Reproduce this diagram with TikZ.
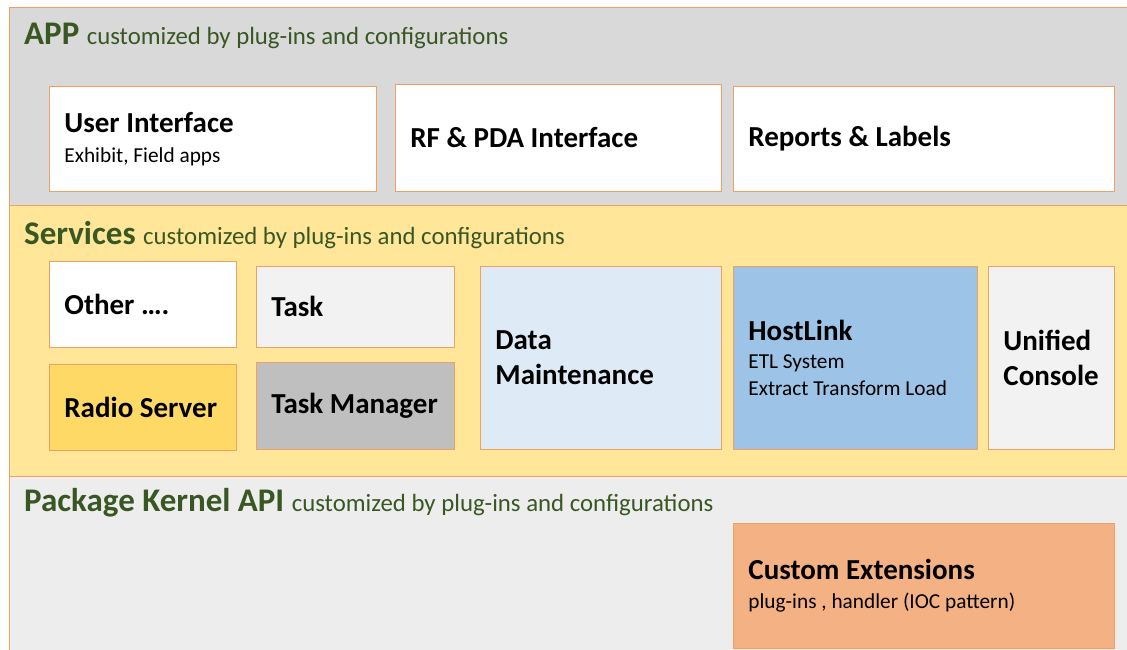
\documentclass[tikz,border=0pt]{standalone}
\usepackage{fontspec}
\setmainfont{Carlito}
\usepackage{xcolor}
\usetikzlibrary{positioning}

\definecolor{edge}{RGB}{240,160,100}
\definecolor{hdgreen}{RGB}{56,87,35}
\definecolor{appgray}{RGB}{217,217,217}
\definecolor{srvyellow}{RGB}{255,230,153}
\definecolor{krngray}{RGB}{237,237,237}
\definecolor{lightgray}{RGB}{242,242,242}
\definecolor{midgray}{RGB}{191,191,191}
\definecolor{gold}{RGB}{255,217,102}
\definecolor{paleblue}{RGB}{222,235,247}
\definecolor{skyblue}{RGB}{157,195,230}
\definecolor{peach}{RGB}{244,177,131}

\newcommand{\panelhd}{\bfseries\fontsize{33}{38}\selectfont}
\newcommand{\panelsub}{\mdseries\fontsize{24.8}{30}\selectfont}
\newcommand{\boxtitle}{\bfseries\fontsize{29}{35}\selectfont}
\newcommand{\boxsub}{\mdseries\fontsize{21.3}{26.5}\selectfont}

\tikzset{
    panel/.style={draw=edge, line width=0.8pt},
    hd/.style={anchor=base west, inner sep=0pt, text=hdgreen},
    blk/.style={draw=edge, line width=0.8pt, anchor=north west, inner xsep=15pt,
        inner ysep=0pt, align=flush left, font=\boxtitle}
}

\begin{document}
\begin{tikzpicture}[x=1pt, y=-1pt]
    \useasboundingbox (0, 0) rectangle (1127, 650);
    \clip (0, 0) rectangle (1127, 650);

    % layers
    \draw[panel, fill=appgray] (9, 7) rectangle (1140, 205);
    \draw[panel, fill=srvyellow] (9, 205) rectangle (1140, 476);
    \draw[panel, fill=krngray] (9, 476) rectangle (1140, 660);

    \node[hd] (apphd) at (24, 45) {\panelhd APP \panelsub customized by plug-ins and configurations};
    \node[hd] (srvhd) at (24, 244) {\panelhd Services \panelsub customized by plug-ins and configurations};
    \node[hd] (krnhd) at (24, 511) {\panelhd Package Kernel API \panelsub customized by plug-ins and configurations};

    % APP
    \node[blk, fill=white, text width=297pt, minimum height=105pt] (ui) at (49, 86)
        {User Interface\\[3pt] \boxsub Exhibit, Field apps\par};
    \node[blk, fill=white, text width=296pt, minimum height=107pt] (rf) at (395, 84)
        {RF \& PDA Interface};
    \node[blk, fill=white, text width=351pt, minimum height=105pt] (rep) at (733, 86)
        {Reports \& Labels};

    % Services
    \node[blk, fill=white, text width=157pt, minimum height=86pt] (other) at (49, 261)
        {Other ….};
    \node[blk, fill=lightgray, text width=168pt, minimum height=81pt] (task) at (256, 266)
        {Task};
    \node[blk, fill=gold, text width=157pt, minimum height=86pt] (radio) at (49, 364)
        {Radio Server};
    \node[blk, fill=midgray, text width=168pt, minimum height=87pt] (taskmgr) at (256, 362)
        {Task Manager};
    \node[blk, fill=paleblue, text width=211pt, minimum height=183pt] (datamt) at (480, 266)
        {Data\\Maintenance};
    \node[blk, fill=skyblue, text width=214pt, minimum height=183pt] (hostlink) at (733, 266)
        {HostLink\\[2pt] \boxsub ETL System\\Extract Transform Load\par};
    \node[blk, fill=lightgray, text width=96pt, minimum height=183pt] (console) at (988, 266)
        {Unified\\Console};

    % Kernel
    \node[blk, fill=peach, text width=351pt, minimum height=125pt] (custext) at (733, 523)
        {Custom Extensions\\[3pt] \boxsub plug-ins , handler (IOC pattern)\par};
\end{tikzpicture}
\end{document}
